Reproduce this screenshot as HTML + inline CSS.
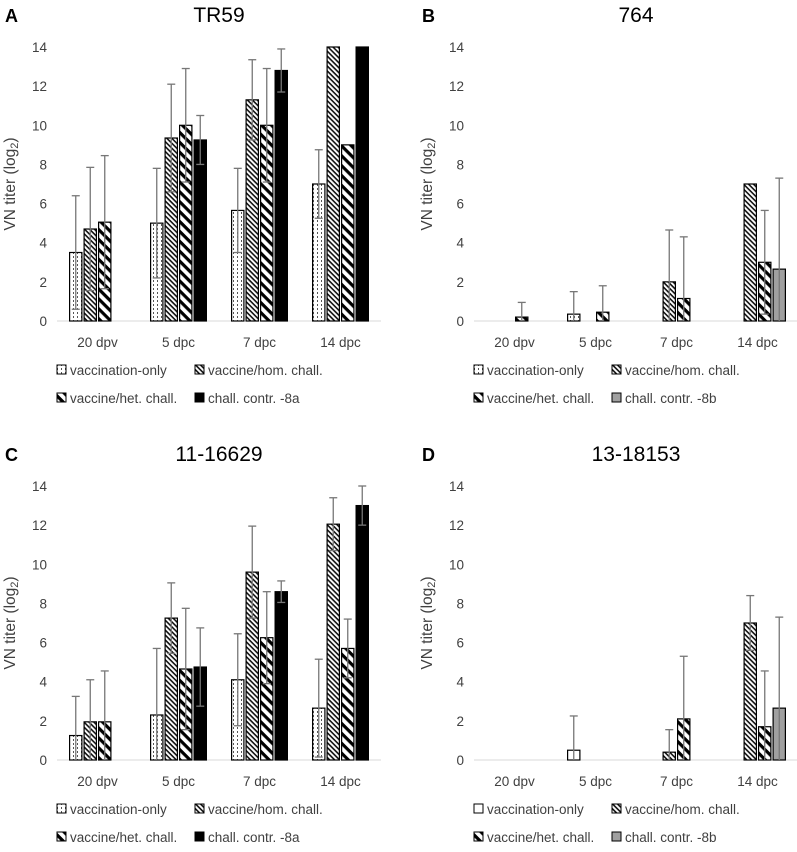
<!DOCTYPE html>
<html><head><meta charset="utf-8">
<style>
html,body{margin:0;padding:0;background:#fff;}
svg{display:block;font-family:"Liberation Sans",sans-serif;}
</style></head>
<body>
<svg id="chart" width="797" height="852" viewBox="0 0 797 852" xmlns="http://www.w3.org/2000/svg">
<defs>
<pattern id="pDot" patternUnits="userSpaceOnUse" width="4" height="4">
<rect width="4" height="4" fill="#fff"/><rect x="1" y="0" width="1" height="2" fill="#555"/></pattern>
<pattern id="pHom" patternUnits="userSpaceOnUse" width="3.5" height="3.5" patternTransform="rotate(45)">
<rect width="3.5" height="3.5" fill="#fff"/><rect width="3.5" height="1.6" fill="#111"/></pattern>
<pattern id="pHet" patternUnits="userSpaceOnUse" width="7" height="7" patternTransform="rotate(45)">
<rect width="7" height="7" fill="#fff"/><rect width="7" height="3.2" fill="#000"/></pattern>
</defs>
</svg>
<script>
const categories = ["20 dpv","5 dpc","7 dpc","14 dpc"];
const yTicks = [0,2,4,6,8,10,12,14];
// panel A (TR59)
const aVacc = [3.5,5.0,5.65,7.0];     const aVaccErr = [2.9,2.8,2.15,1.75];
const aHom  = [4.7,9.35,11.3,14];     const aHomErr  = [3.15,2.75,2.05,0];
const aHet  = [5.05,10,10,9];         const aHetErr  = [3.4,2.9,2.9,0];
const aCtrl = [0,9.25,12.8,14];       const aCtrlErr = [0,1.25,1.1,0];
// panel B (764)
const bVacc = [0,0.35,0,0];           const bVaccErr = [0,1.15,0,0];
const bHom  = [0,0,2.0,7.0];          const bHomErr  = [0,0,2.65,0];
const bHet  = [0.2,0.45,1.15,3.0];    const bHetErr  = [0.75,1.35,3.15,2.65];
const bCtrl = [0,0,0,2.65];           const bCtrlErr = [0,0,0,4.65];
// panel C (11-16629)
const cVacc = [1.25,2.3,4.1,2.65];    const cVaccErr = [2.0,3.4,2.35,2.5];
const cHom  = [1.95,7.25,9.6,12.05];  const cHomErr  = [2.15,1.8,2.35,1.35];
const cHet  = [1.95,4.65,6.25,5.7];   const cHetErr  = [2.6,3.1,2.35,1.5];
const cCtrl = [0,4.75,8.6,13.0];      const cCtrlErr = [0,2.0,0.55,1.0];
// panel D (13-18153)
const dVacc = [0,0.5,0,0];            const dVaccErr = [0,1.75,0,0];
const dHom  = [0,0,0.4,7.0];          const dHomErr  = [0,0,1.15,1.4];
const dHet  = [0,0,2.1,1.7];          const dHetErr  = [0,0,3.2,2.85];
const dCtrl = [0,0,0,2.65];           const dCtrlErr = [0,0,0,4.65];

const NS="http://www.w3.org/2000/svg";
const svg=document.getElementById('chart');
function mk(tag,attrs,parent,text){const e=document.createElementNS(NS,tag);for(const k in attrs)e.setAttribute(k,attrs[k]);if(text!==undefined)e.textContent=text;(parent||svg).appendChild(e);return e;}

const panels=[
 {id:'a',letter:'A',title:'TR59',ox:0,oy:0,ctrlFill:'#000',vaccFill:'url(#pDot)',ctrlLabel:'chall. contr. -8a',series:[[aVacc,aVaccErr],[aHom,aHomErr],[aHet,aHetErr],[aCtrl,aCtrlErr]]},
 {id:'b',letter:'B',title:'764',ox:417,oy:0,ctrlFill:'#a0a0a0',vaccFill:'url(#pDot)',ctrlLabel:'chall. contr. -8b',series:[[bVacc,bVaccErr],[bHom,bHomErr],[bHet,bHetErr],[bCtrl,bCtrlErr]]},
 {id:'c',letter:'C',title:'11-16629',ox:0,oy:439,ctrlFill:'#000',vaccFill:'url(#pDot)',ctrlLabel:'chall. contr. -8a',series:[[cVacc,cVaccErr],[cHom,cHomErr],[cHet,cHetErr],[cCtrl,cCtrlErr]]},
 {id:'d',letter:'D',title:'13-18153',ox:417,oy:439,ctrlFill:'#a0a0a0',vaccFill:'#fff',ctrlLabel:'chall. contr. -8b',series:[[dVacc,dVaccErr],[dHom,dHomErr],[dHet,dHetErr],[dCtrl,dCtrlErr]]}
];
const seriesNames=['vaccination-only','vaccine-hom-chall','vaccine-het-chall','chall-contr'];

panels.forEach(p=>{
 const g=mk('g',{transform:`translate(${p.ox},${p.oy})`});
 
 
 const x0=57,x1=381,y0=321,yTop=47;
 const yS=v=>y0-(v/14)*(y0-yTop);
 const catW=(x1-x0)/categories.length;
 const bw=12.3,pitch=14.5;
 const xS=(ci,si)=>x0+catW*ci+catW/2-(3*pitch+bw)/2+si*pitch;
 let t=mk('text',{x:5,y:22,'font-size':18,'font-weight':'bold',fill:'#000'},g,p.letter);
 
 t=mk('text',{x:(x0+x1)/2,y:22,'font-size':21,'text-anchor':'middle',fill:'#000'},g,p.title);
 
 yTicks.forEach(v=>{const tt=mk('text',{x:47,y:yS(v)+5,'font-size':13.5,'text-anchor':'end',fill:'#404040'},g,String(v));
  });
 t=mk('text',{transform:`translate(15,${(y0+yTop)/2}) rotate(-90)`,'font-size':15.5,'text-anchor':'middle',fill:'#404040'},g);
 
 mk('tspan',{},t,'VN titer (log');mk('tspan',{'font-size':11,dy:3},t,'2');mk('tspan',{dy:-3},t,')');
 const ax=mk('line',{x1:x0,x2:x1,y1:y0,y2:y0,stroke:'#d9d9d9','stroke-width':1},g);
 
 categories.forEach((c,ci)=>{const tt=mk('text',{x:x0+catW*ci+catW/2,y:y0+26,'font-size':13.5,'text-anchor':'middle',fill:'#404040'},g,c);
  });
 const fills=[p.vaccFill,'url(#pHom)','url(#pHet)',p.ctrlFill];
 p.series.forEach(([vals,errs],si)=>{
  vals.forEach((v,ci)=>{
   if(v<=0)return;
   const x=xS(ci,si);
   const r=mk('rect',{x:x,y:yS(v),width:bw,height:y0-yS(v),fill:fills[si],stroke:'#000','stroke-width':1.2},g);
   
   
  });
 });
 p.series.forEach(([vals,errs],si)=>{
  vals.forEach((v,ci)=>{
   const e=errs[ci]; if(!(e>0))return;
   const cx=xS(ci,si)+bw/2;
   const lo=Math.max(0,v-e),hi=v+e;
   const eg=mk('g',{stroke:'#777','stroke-width':1.3},g);
   
   
   mk('line',{x1:cx,x2:cx,y1:yS(lo),y2:yS(hi)},eg);
   mk('line',{x1:cx-4,x2:cx+4,y1:yS(hi),y2:yS(hi)},eg);
   if(v-e>0.05)mk('line',{x1:cx-4,x2:cx+4,y1:yS(lo),y2:yS(lo)},eg);
  });
 });
 const leg=[[57,375,fills[0],'vaccination-only'],[195,375,'url(#pHom)','vaccine/hom. chall.'],[57,403,'url(#pHet)','vaccine/het. chall.'],[195,403,p.ctrlFill,p.ctrlLabel]];
 leg.forEach(([lx,ly,f,lab],i)=>{
  const lg=mk('g',{},g);
  
  
  mk('rect',{x:lx,y:ly-10,width:9,height:9,fill:f,stroke:'#000','stroke-width':1},lg);
  mk('text',{x:lx+13,y:ly,'font-size':13.5,fill:'#404040'},lg,lab);
 });
});
</script>
</body></html>
